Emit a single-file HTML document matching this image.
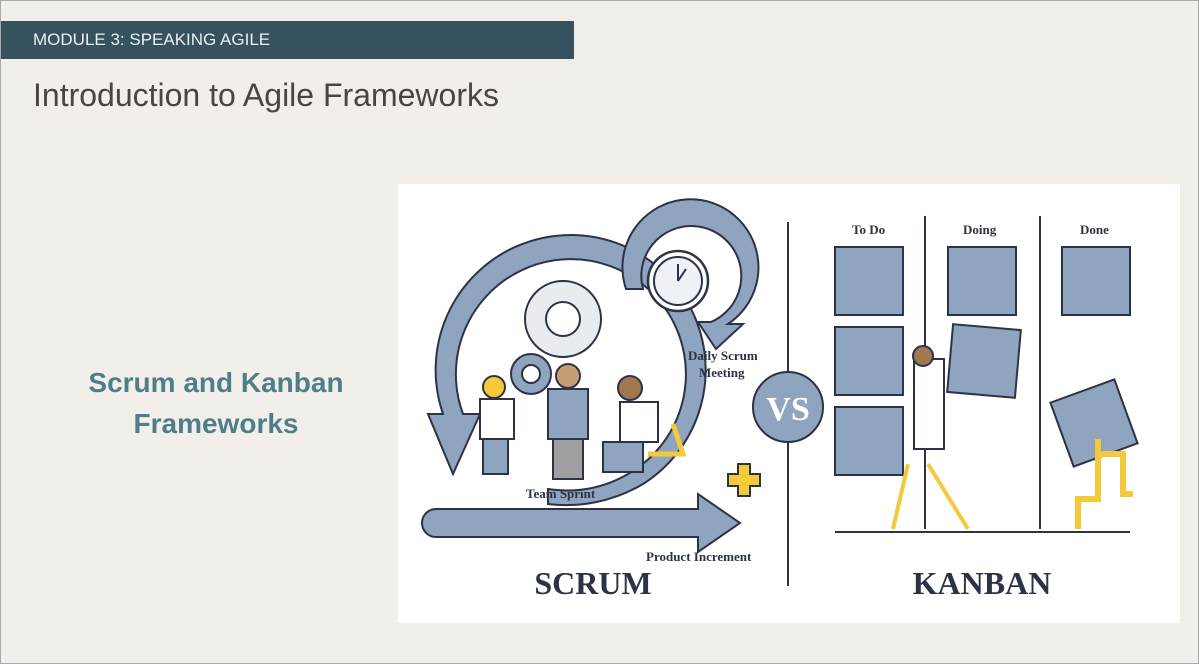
<!DOCTYPE html>
<html><head><style>
body{margin:0;width:1199px;height:664px;background:#f2efea;position:relative;overflow:hidden;font-family:"Liberation Sans",sans-serif}
.frame{position:absolute;left:0;top:0;width:1197px;height:662px;border:1px solid #a8a8a8}
.bar{position:absolute;left:1px;top:21px;width:573px;height:38px;background:#35525e;color:#e8f0f2;font-size:17px;line-height:38px;padding-left:32px;box-sizing:border-box}
.title{position:absolute;left:33px;top:77px;font-size:32px;color:#4a4540}
.sub{position:absolute;left:56px;top:362px;width:320px;text-align:center;color:#4e7f89;font-weight:bold;font-size:28px;line-height:41px}
svg{position:absolute;left:398px;top:184px}
</style></head><body>
<div class="frame"></div>
<div class="bar">MODULE 3: SPEAKING AGILE</div>
<div class="title">Introduction to Agile Frameworks</div>
<div class="sub">Scrum and Kanban<br>Frameworks</div>
<svg width="782" height="439" viewBox="0 0 782 439">
<rect width="782" height="439" fill="#fff"/>
<g stroke="#2c3346" stroke-width="2" fill="#8fa4bf">
<path d="M45 230 A135 135 0 1 1 245 300 L245 300 A150 150 0 0 1 150 320 L150 305 A120 120 0 0 0 230 290 A115 115 0 1 0 65 230 L82 230 L55 290 L30 230 Z"/>
<path d="M228 105 A68 68 0 1 1 330 140 L345 140 L318 165 L300 138 L313 138 A50 50 0 1 0 245 105 Z"/>
<path d="M38 325 L300 325 L300 310 L342 339 L300 368 L300 353 L38 353 A14 14 0 0 1 38 325 Z"/>
</g>
<circle cx="280" cy="97" r="30" fill="#fff" stroke="#2c3346" stroke-width="2.5"/>
<circle cx="280" cy="97" r="24" fill="#eef1f5" stroke="#2c3346" stroke-width="2"/>
<path d="M280 97 L280 80 M280 97 L288 85" stroke="#2c3346" stroke-width="2"/>
<circle cx="165" cy="135" r="38" fill="#e9ecef" stroke="#2c3346" stroke-width="2"/>
<circle cx="165" cy="135" r="17" fill="#fff" stroke="#2c3346" stroke-width="2"/>
<circle cx="133" cy="190" r="20" fill="#8fa4bf" stroke="#2c3346" stroke-width="2"/>
<circle cx="133" cy="190" r="9" fill="#fff" stroke="#2c3346" stroke-width="2"/>
<g stroke="#2c3346" stroke-width="2">
<rect x="82" y="215" width="34" height="40" fill="#fff"/><rect x="85" y="255" width="25" height="35" fill="#8fa4bf"/><circle cx="96" cy="203" r="11" fill="#f4c93a"/>
<rect x="150" y="205" width="40" height="50" fill="#8fa4bf"/><rect x="155" y="255" width="30" height="40" fill="#a0a0a0"/><circle cx="170" cy="192" r="12" fill="#c79d73"/>
<rect x="222" y="218" width="38" height="40" fill="#fff"/><rect x="205" y="258" width="40" height="30" fill="#8fa4bf"/><circle cx="232" cy="204" r="12" fill="#a0784e"/>
<path d="M250 270 L285 270 L275 240" fill="none" stroke="#f4c93a" stroke-width="5"/>
<path d="M330 290 h10 v-10 h12 v10 h10 v12 h-10 v10 h-12 v-10 h-10 z" fill="#f4c93a"/>
</g>
<g font-family="Liberation Serif,serif" font-weight="bold" fill="#2c3346">
<text x="290" y="176" font-size="13">Daily Scrum</text><text x="301" y="193" font-size="13">Meeting</text>
<text x="128" y="314" font-size="13">Team Sprint</text>
<text x="248" y="377" font-size="13">Product Increment</text>
<text x="195" y="410" font-size="32" text-anchor="middle">SCRUM</text>
<text x="584" y="410" font-size="32" text-anchor="middle">KANBAN</text>
<text x="454" y="50" font-size="13">To Do</text><text x="565" y="50" font-size="13">Doing</text><text x="682" y="50" font-size="13">Done</text>
</g>
<g stroke="#2c3346" stroke-width="2">
<line x1="390" y1="38" x2="390" y2="188"/><line x1="390" y1="258" x2="390" y2="402"/>
<line x1="527" y1="32" x2="527" y2="345"/><line x1="642" y1="32" x2="642" y2="345"/>
<line x1="437" y1="348" x2="732" y2="348"/>
<circle cx="390" cy="223" r="35" fill="#8fa4bf"/>
</g>
<text x="390" y="236" text-anchor="middle" font-family="Liberation Serif,serif" font-weight="bold" font-size="34" fill="#fff">VS</text>
<g fill="#8fa4bf" stroke="#2c3346" stroke-width="2">
<rect x="437" y="63" width="68" height="68"/><rect x="437" y="143" width="68" height="68"/><rect x="437" y="223" width="68" height="68"/>
<rect x="550" y="63" width="68" height="68"/><rect x="552" y="143" width="68" height="68" transform="rotate(5 586 177)"/>
<rect x="664" y="63" width="68" height="68"/>
<rect x="662" y="205" width="68" height="68" transform="rotate(-20 696 239)"/>
<rect x="516" y="175" width="30" height="90" fill="#fff"/><circle cx="525" cy="172" r="10" fill="#a0784e"/>
<path d="M700 255 v60 h-20 v30 M700 270 h25 v40 h10" fill="none" stroke="#f4c93a" stroke-width="6"/>
<path d="M510 280 L495 345 M530 280 L570 345" stroke="#f4c93a" stroke-width="4"/>
</g>
</svg>
</body></html>
